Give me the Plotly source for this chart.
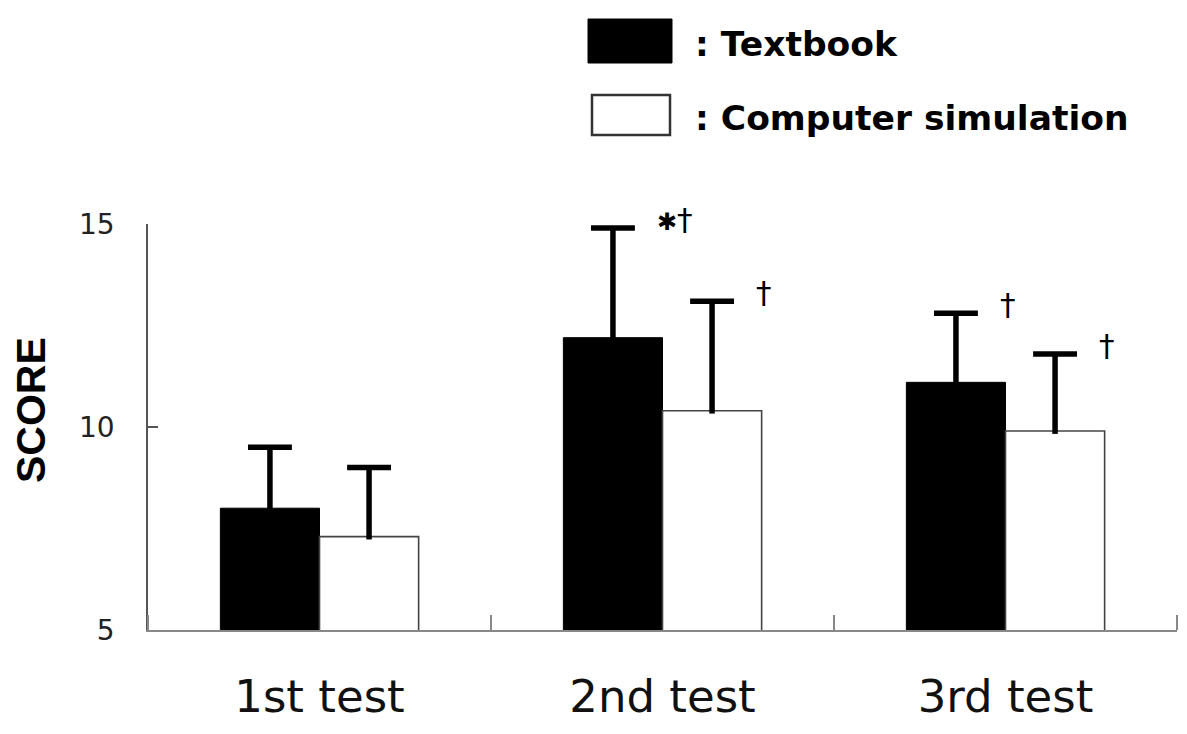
import plotly.graph_objects as go

# Mean test scores and standard deviations per group
categories = ["1st test", "2nd test", "3rd test"]
textbook_mean = [8.0, 12.2, 11.1]
textbook_sd = [1.5, 2.7, 1.7]
computer_mean = [7.3, 10.4, 9.9]
computer_sd = [1.7, 2.7, 1.9]

# Significance markers shown beside the error bars
textbook_marks = ["", "<span style='font-size:24px'>\u2731</span>\u2020", "\u2020"]
computer_marks = ["", "\u2020", "\u2020"]

y_ticks = [5, 10, 15]
series_names = [": Textbook", ": Computer simulation"]

BAR_W = 0.289   # bar width in category units
CAP = 0.064     # half width of the error-bar cap
idx = list(range(len(categories)))

# plot-area edges in pixels, used to place the custom key
PLOT_L, PLOT_R, PLOT_T, PLOT_B = 148, 1177, 224, 630


def fx(p):
    return (p - PLOT_L) / (PLOT_R - PLOT_L)


def fy(p):
    return (PLOT_B - p) / (PLOT_B - PLOT_T)


def whisker(centers, means, sds):
    xs, ys = [], []
    for c, m, s in zip(centers, means, sds):
        top = m + s
        xs += [c, c, None, c - CAP, c + CAP, None]
        ys += [m - 0.07, top, None, top, top, None]
    return xs, ys


fig = go.Figure()

fig.add_trace(go.Bar(
    x=idx, y=textbook_mean, width=BAR_W, offset=-BAR_W,
    marker=dict(color="black", line=dict(color="black", width=1)),
    name=series_names[0], showlegend=False,
))
fig.add_trace(go.Bar(
    x=idx, y=computer_mean, width=BAR_W, offset=0,
    marker=dict(color="white", line=dict(color="#444444", width=1.6)),
    name=series_names[1], showlegend=False,
))

tb_centers = [i - BAR_W / 2 for i in idx]
cs_centers = [i + BAR_W / 2 for i in idx]

for centers, means, sds in ((tb_centers, textbook_mean, textbook_sd),
                            (cs_centers, computer_mean, computer_sd)):
    ex, ey = whisker(centers, means, sds)
    fig.add_trace(go.Scatter(
        x=ex, y=ey, mode="lines",
        line=dict(color="black", width=5.5),
        showlegend=False, hoverinfo="skip", cliponaxis=False,
    ))

annotations = []
for centers, means, sds, marks in ((tb_centers, textbook_mean, textbook_sd, textbook_marks),
                                   (cs_centers, computer_mean, computer_sd, computer_marks)):
    for c, m, s, t in zip(centers, means, sds, marks):
        if not t:
            continue
        annotations.append(dict(
            x=c + BAR_W / 2, y=m + s, xref="x", yref="y",
            text=t, showarrow=False, xanchor="left", yanchor="middle",
            xshift=-8, yshift=9,
            font=dict(family="DejaVu Sans", size=31, color="black"),
        ))

# y-axis title
annotations.append(dict(
    x=fx(31), y=fy(410), xref="paper", yref="paper",
    text="<b>SCORE</b>", textangle=-90, showarrow=False,
    xanchor="center", yanchor="middle",
    font=dict(family="Liberation Sans", size=41, color="black"),
))

# key entries
annotations.append(dict(
    x=fx(693), y=fy(44), xref="paper", yref="paper",
    text="<b>" + series_names[0] + "</b>", showarrow=False,
    xanchor="left", yanchor="middle",
    font=dict(family="DejaVu Sans", size=34.5, color="black"),
))
annotations.append(dict(
    x=fx(693), y=fy(118), xref="paper", yref="paper",
    text="<b>" + series_names[1] + "</b>", showarrow=False,
    xanchor="left", yanchor="middle",
    font=dict(family="DejaVu Sans", size=34.5, color="black"),
))

shapes = [
    dict(type="rect", xref="paper", yref="paper",
         x0=fx(588), x1=fx(672), y0=fy(63), y1=fy(19),
         fillcolor="black", line=dict(color="black", width=1)),
    dict(type="rect", xref="paper", yref="paper",
         x0=fx(592), x1=fx(670), y0=fy(135), y1=fy(95),
         fillcolor="white", line=dict(color="#333333", width=2.5)),
]

fig.update_layout(
    width=1187, height=734,
    margin=dict(l=PLOT_L, r=1187 - PLOT_R, t=PLOT_T, b=734 - PLOT_B),
    paper_bgcolor="white", plot_bgcolor="white",
    barmode="overlay",
    annotations=annotations, shapes=shapes,
    xaxis=dict(
        range=[-0.5, 2.5], tickmode="array", tickvals=idx, ticktext=categories,
        ticks="", showgrid=False, zeroline=False,
        showline=True, linecolor="#888888", linewidth=2,
        tickfont=dict(family="DejaVu Sans", size=45, color="#111111"),
        ticklabelstandoff=26,
        minor=dict(tickmode="array", tickvals=[-0.5, 0.5, 1.5, 2.5],
                   ticks="inside", ticklen=15, tickwidth=2, tickcolor="#888888"),
    ),
    yaxis=dict(
        range=[5, 15], tickmode="array", tickvals=y_ticks,
        ticks="inside", ticklen=10, tickwidth=1.5, tickcolor="#555555",
        showgrid=False, zeroline=False,
        showline=True, linecolor="#555555", linewidth=1.5,
        tickfont=dict(family="DejaVu Sans", size=28, color="#222222"),
        ticklabelstandoff=26,
    ),
)

fig.write_html("out.html")
